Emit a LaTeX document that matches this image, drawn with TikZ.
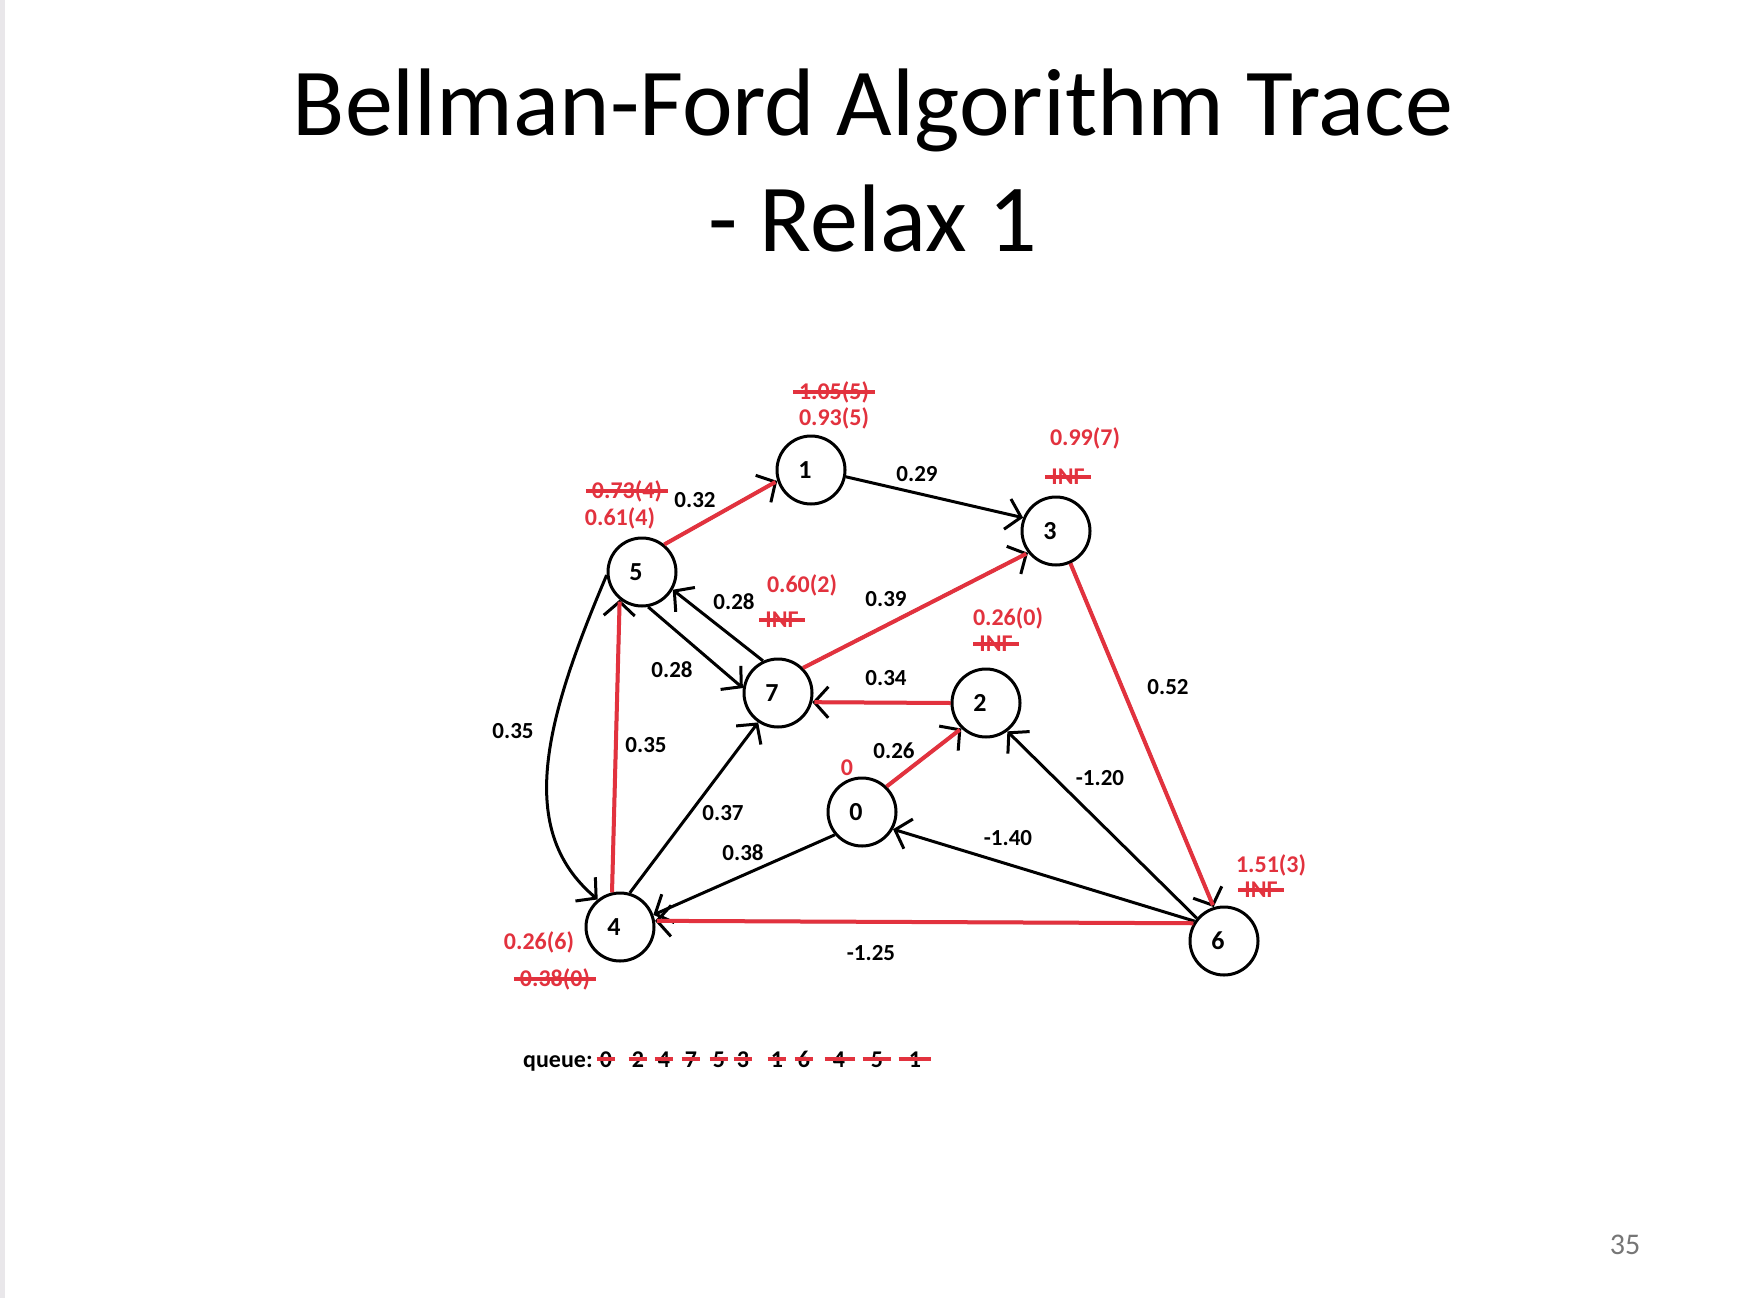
\documentclass[tikz,border=0pt]{standalone}
\usepackage{fontspec}
\setmainfont{Carlito}
\usetikzlibrary{arrows.meta}
\definecolor{tracered}{RGB}{226,50,62}
\definecolor{stripgray}{RGB}{233,231,234}
\definecolor{pagegray}{RGB}{118,118,118}
\begin{document}
\begin{tikzpicture}[x=1pt,y=-1pt,
  vertex/.style={circle,draw=black,line width=3pt,minimum size=68pt,inner sep=0pt,
    font=\fontsize{26}{26}\selectfont\bfseries,execute at begin node={\kern-12pt}},
  edge/.style={line width=3pt,-{Straight Barb[length=14pt,width=31pt]}},
  redline/.style={draw=tracered,line width=4pt,shorten >=2pt},
  wt/.style={font=\fontsize{23}{23}\selectfont\bfseries,inner sep=0pt},
  dist/.style={font=\fontsize{24}{24}\selectfont\bfseries,text=tracered,inner sep=0pt},
  qitem/.style={font=\fontsize{24}{24}\selectfont\bfseries,inner sep=0pt,anchor=base},
  strike/.style={draw=tracered,line width=4pt,shorten <=-6pt,shorten >=-6pt},
  qstrike/.style={draw=tracered,line width=4pt,shorten <=-3pt,shorten >=-3pt},
  titlefont/.style={font=\fontsize{96}{116}\selectfont,inner sep=0pt,anchor=base},
]
\useasboundingbox (0,0) rectangle (1742,1298);
\fill[white] (0,0) rectangle (1742,1298);
\fill[stripgray] (0,0) rectangle (5,1298);

% title
\node[titlefont] (t1) at (873,135) {Bellman-Ford Algorithm Trace};
\node[titlefont] (t2) at (873,251) {- Relax 1};

% vertices
\node[vertex] (n1) at (811,470) {1};
\node[vertex] (n3) at (1056,531) {3};
\node[vertex] (n5) at (642,572) {5};
\node[vertex] (n7) at (778,693) {7};
\node[vertex] (n2) at (986,703) {2};
\node[vertex] (n0) at (862,812) {0};
\node[vertex] (n4) at (620,927) {4};
\node[vertex] (n6) at (1224,941) {6};

% black edges
\draw[edge] (n1.349) -- (n3.158);
\draw[edge] (n7.115) -- (n5.330);
\draw[edge] (n5.280) -- (n7.172);
\draw[edge] (n6.140) -- (n2.307);
\draw[edge] (n6.146) -- (n0.331);
\draw[edge] (n0.220) -- (n4.20);
\draw[edge] (n4.74) -- (n7.236);
\draw[edge] (n5.185) .. controls (545,720) and (515,830) .. (n4.129);

% red (relaxed) edges
\draw[edge] (n5.51) -- (n1.198);
\draw[redline] (n5.51) -- (n1.198);
\draw[edge] (n7.45) -- (n3.218);
\draw[redline] (n7.45) -- (n3.218);
\draw[edge] (n3.294) -- (n6.107);
\draw[redline] (n3.294) -- (n6.107);
\draw[edge] (n2.west) -- (n7.345);
\draw[redline] (n2.west) -- (n7.345);
\draw[edge] (n0.46) -- (n2.226);
\draw[redline] (n0.46) -- (n2.226);
\draw[edge] (n6.150) -- (n4.10);
\draw[redline] (n6.150) -- (n4.10);
\draw[edge] (n4.103) -- (n5.231);
\draw[redline] (n4.103) -- (n5.231);

% weights
\node[wt] (w51) at (695,500) {0.32};
\node[wt] (w13) at (917,474) {0.29};
\node[wt] (w75) at (734,602) {0.28};
\node[wt] (w73) at (886,599) {0.39};
\node[wt] (w57) at (672,670) {0.28};
\node[wt] (w27) at (886,678) {0.34};
\node[wt] (w36) at (1168,687) {0.52};
\node[wt] (w54) at (513,731) {0.35};
\node[wt] (w45) at (646,745) {0.35};
\node[wt] (w02) at (894,751) {0.26};
\node[wt] (w62) at (1100,778) {-1.20};
\node[wt] (w47) at (723,813) {0.37};
\node[wt] (w60) at (1008,838) {-1.40};
\node[wt] (w04) at (743,853) {0.38};
\node[wt] (w64) at (871,953) {-1.25};

% distances
\node[dist] (s1) at (834,392) {1.05(5)};
\draw[strike] (s1.west) -- (s1.east);
\node[dist] (d1) at (834,418) {0.93(5)};
\node[dist] (s5) at (627,491) {0.73(4)};
\draw[strike] (s5.west) -- (s5.east);
\node[dist] (d5) at (620,518) {0.61(4)};
\node[dist] (d3) at (1085,438) {0.99(7)};
\node[dist] (s3) at (1068,477) {INF};
\draw[strike] (s3.west) -- (s3.east);
\node[dist] (d7) at (802,585) {0.60(2)};
\node[dist] (s7) at (782,620) {INF};
\draw[strike] (s7.west) -- (s7.east);
\node[dist] (d2) at (1008,618) {0.26(0)};
\node[dist] (s2) at (996,644) {INF};
\draw[strike] (s2.west) -- (s2.east);
\node[dist] (d0) at (847,768) {0};
\node[dist] (d6) at (1271,865) {1.51(3)};
\node[dist] (s6) at (1261,890) {INF};
\draw[strike] (s6.west) -- (s6.east);
\node[dist] (d4) at (539,942) {0.26(6)};
\node[dist] (s4) at (555,979) {0.38(0)};
\draw[strike] (s4.west) -- (s4.east);

% queue
\node[qitem,anchor=base west] (ql) at (523,1067) {queue:};
\node[qitem] (q1) at (606,1067) {0};
\node[qitem] (q2) at (638,1067) {2};
\node[qitem] (q3) at (664,1067) {4};
\node[qitem] (q4) at (691,1067) {7};
\node[qitem] (q5) at (719,1067) {5};
\node[qitem] (q6) at (743,1067) {3};
\node[qitem] (q7) at (777,1067) {1};
\node[qitem] (q8) at (804,1067) {6};
\node[qitem] (q9) at (839,1067) {4};
\node[qitem] (q10) at (877,1067) {5};
\node[qitem] (q11) at (915,1067) {1};
\draw[qstrike] (q1.west) -- (q1.east);
\draw[qstrike] (q2.west) -- (q2.east);
\draw[qstrike] (q3.west) -- (q3.east);
\draw[qstrike] (q4.west) -- (q4.east);
\draw[qstrike] (q5.west) -- (q5.east);
\draw[qstrike] (q6.west) -- (q6.east);
\draw[qstrike] (q7.west) -- (q7.east);
\draw[qstrike] (q8.west) -- (q8.east);
\draw[qstrike,shorten <=-8pt,shorten >=-10pt] (q9.west) -- (q9.east);
\draw[qstrike,shorten <=-8pt,shorten >=-8pt] (q10.west) -- (q10.east);
\draw[qstrike,shorten <=-10pt,shorten >=-10pt] (q11.west) -- (q11.east);

% page number
\node[font=\fontsize{30}{30}\selectfont,text=pagegray,inner sep=0pt] (pg) at (1625,1245) {35};
\end{tikzpicture}
\end{document}
